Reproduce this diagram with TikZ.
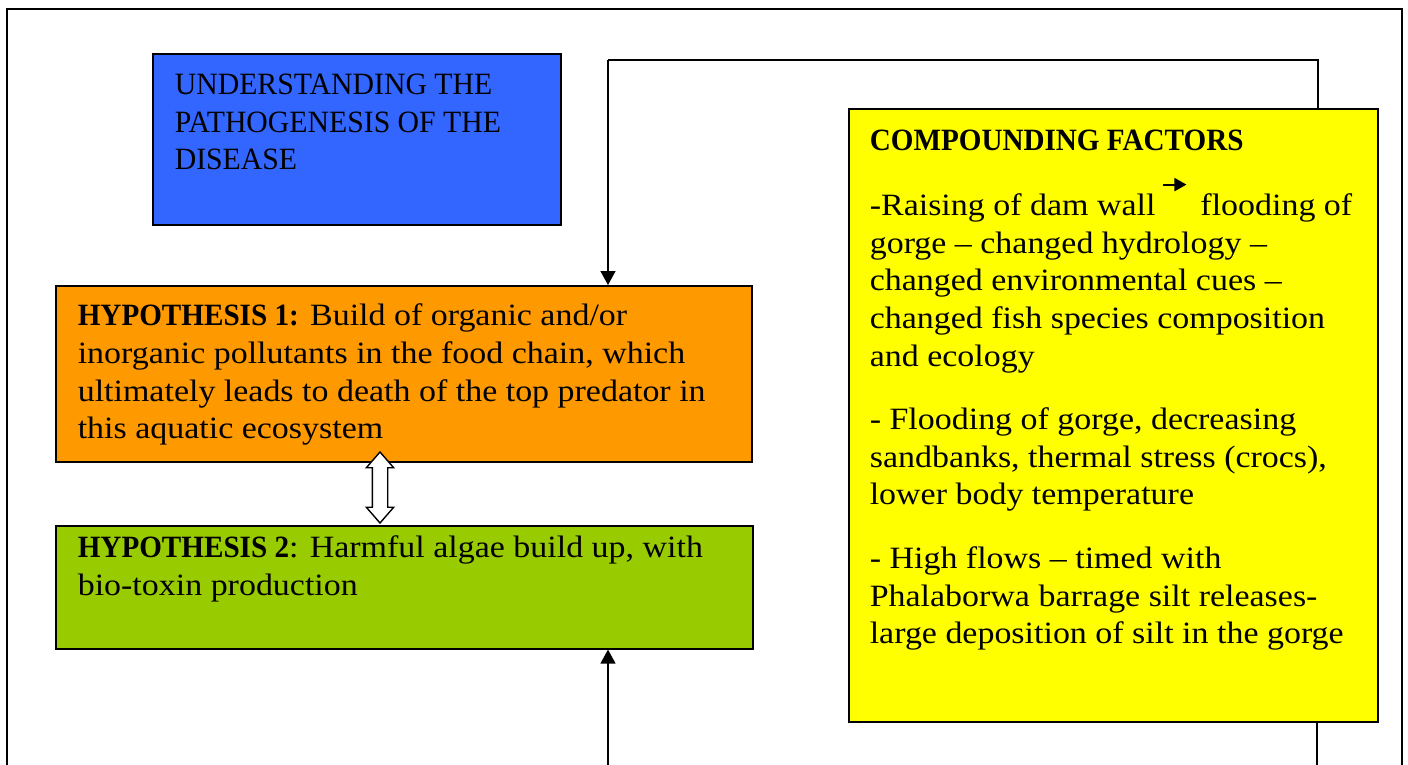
\documentclass[tikz,border=0pt]{standalone}
\usepackage{fontspec}
\setmainfont{Liberation Serif}[FakeStretch=1.095,BoldFeatures={FakeStretch=0.94}]
\newfontfamily\pgcapsfont{Liberation Serif}[FakeStretch=0.96]
\usepackage{xcolor}
\usepackage{tikz}
\usetikzlibrary{positioning,arrows.meta,shapes.arrows,calc}
\definecolor{PGBlue}{HTML}{3366FF}
\definecolor{PGOrange}{HTML}{FF9900}
\definecolor{PGGreen}{HTML}{99CC00}
\definecolor{PGYellow}{HTML}{FFFF00}
\newcommand{\panelbody}[4]{\parbox[t][#2][t]{#1}{\raggedright\rule{0pt}{#3}#4}}
\tikzset{
  pgpanel/.style={
    rectangle,
    draw=black,
    line width=1.6pt,
    anchor=north west,
    inner xsep=22pt,
    inner ysep=0pt,
    font=\fontsize{31}{37.6}\selectfont
  },
  pgblue/.style={pgpanel,fill=PGBlue},
  pgorange/.style={pgpanel,fill=PGOrange},
  pggreen/.style={pgpanel,fill=PGGreen},
  pgyellow/.style={pgpanel,fill=PGYellow,inner xsep=21pt},
  pglink/.style={line width=1.4pt,draw=black},
  pgarrow/.style={pglink,-{Triangle[length=14pt,width=15pt]}},
  pgframe/.style={line width=2pt,draw=black},
}

\begin{document}
\begin{tikzpicture}[x=1pt,y=-1pt]
  \useasboundingbox (0,0) rectangle (1408,765);
  \draw[pgframe] (7,790) -- (7,9) -- (1402,9) -- (1402,790);

  \node[pgblue] (aim) at (152,53)
    {\panelbody{364pt}{171pt}{41pt}{\pgcapsfont UNDERSTANDING THE\\PATHOGENESIS OF THE\\DISEASE}};
  \node[pgorange] (hyp1) at (55,285)
    {\panelbody{652pt}{176pt}{40pt}{\textbf{HYPOTHESIS 1:} Build of organic and/or\\
     inorganic pollutants in the food chain, which\\
     ultimately leads to death of the top predator in\\
     this aquatic ecosystem}};
  \node[pggreen] (hyp2) at (55,525)
    {\panelbody{653pt}{123pt}{32pt}{\textbf{HYPOTHESIS 2}: Harmful algae build up, with\\
     bio-toxin production}};
  \node[pgyellow] (factors) at (848,108)
    {\panelbody{487pt}{613pt}{42pt}{\textbf{COMPOUNDING FACTORS}\\[26pt]
     \mbox{-Raising of dam wall\hspace{7pt}\tikz[baseline=-31pt]\draw[line width=2pt,-{Triangle[length=12pt,width=13pt]}] (0,0) -- (23pt,0);\hspace{13pt}flooding of}\\
     gorge -- changed hydrology --\\
     changed environmental cues --\\
     changed fish species composition\\
     and ecology\\[26pt]
     - Flooding of gorge, decreasing\\
     sandbanks, thermal stress (crocs),\\
     lower body temperature\\[26pt]
     - High flows -- timed with\\
     Phalaborwa barrage silt releases-\\
     large deposition of silt in the gorge}};

  \node[double arrow,draw=black,fill=white,line width=1.4pt,rotate=90,
    minimum height=71pt,minimum width=26pt,inner xsep=0pt,inner ysep=7pt,
    double arrow head extend=6pt,double arrow tip angle=82] (link12) at (380,487.5) {};

  % feedback loop around the yellow box
  \coordinate (topR) at (1318,60);
  \coordinate (topL) at (608,60);
  \coordinate (botR) at (1317,790);
  \coordinate (botL) at (608,790);
  \draw[pglink] (factors.north -| topR) -- (topR) -- (topL);
  \draw[pgarrow] (topL) -- (hyp1.north -| topL);
  \draw[pglink] (factors.south -| botR) -- (botR);
  \draw[pgarrow] (botL) -- (hyp2.south -| botL);
\end{tikzpicture}
\end{document}
